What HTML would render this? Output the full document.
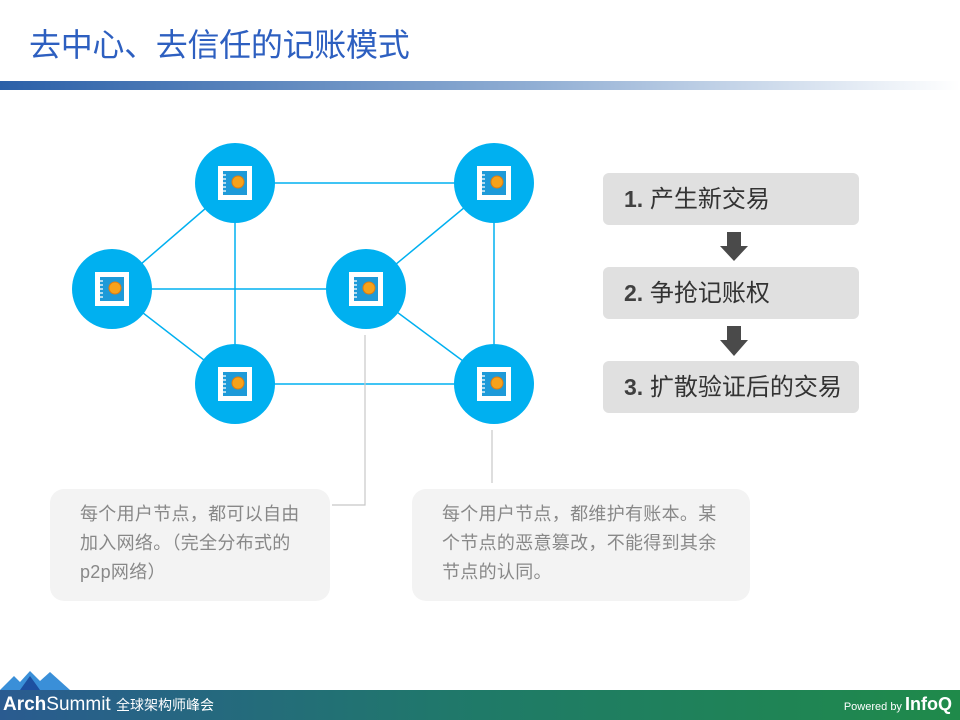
<!DOCTYPE html>
<html><head><meta charset="utf-8"><style>
body{margin:0;width:960px;height:720px;overflow:hidden;background:#fff;font-family:"Liberation Sans","Noto Sans CJK SC",sans-serif;position:relative}
.t{position:absolute;left:29px;top:20px;font-size:32px;color:#2d5fc0;letter-spacing:-0.3px}
.bar{position:absolute;left:0;top:81px;width:960px;height:9px;background:linear-gradient(90deg,#2b60a8,#8fadd3 55%,#fff)}
.box{position:absolute;left:603px;width:256px;height:52px;background:#e0e0e0;border-radius:6px;font-size:24px;color:#333;line-height:52px;box-sizing:border-box;padding-left:21px}
.box b{font-weight:bold;font-size:23px;color:#404040}
.c{position:absolute;top:489px;height:112px;background:#f3f3f3;border-radius:14px;font-size:18px;color:#888;line-height:29px;box-sizing:border-box;padding-top:11px;letter-spacing:0.3px}
.foot{position:absolute;left:0;top:690px;width:960px;height:30px;background:linear-gradient(90deg,#2a5b90,#1f7a68 50%,#1f8a4a)}
</style></head><body>
<div class="t">去中心、去信任的记账模式</div>
<div class="bar"></div>
<svg width="960" height="720" style="position:absolute;left:0;top:0">
<g stroke="#00b0f0" stroke-width="1.5">
<line x1="235" y1="183" x2="494" y2="183"/><line x1="235" y1="183" x2="112" y2="289"/>
<line x1="235" y1="183" x2="235" y2="384"/><line x1="112" y1="289" x2="366" y2="289"/>
<line x1="112" y1="289" x2="235" y2="384"/><line x1="235" y1="384" x2="494" y2="384"/>
<line x1="494" y1="183" x2="366" y2="289"/><line x1="494" y1="183" x2="494" y2="384"/>
<line x1="366" y1="289" x2="494" y2="384"/></g>
<g stroke="#c8c8c8" stroke-width="1.2" fill="none">
<polyline points="365,335 365,505 332,505"/><line x1="492" y1="430" x2="492" y2="483"/></g>
<defs><g id="n"><circle r="40" fill="#00b0f0"/><rect x="-17" y="-17" width="34" height="34" fill="#fff"/>
<rect x="-12" y="-12" width="24" height="24" fill="#1e9ad8"/>
<g stroke="#fff" stroke-width="1.3"><line x1="-14" y1="-8" x2="-9" y2="-8"/><line x1="-14" y1="-4" x2="-9" y2="-4"/><line x1="-14" y1="0" x2="-9" y2="0"/><line x1="-14" y1="4" x2="-9" y2="4"/><line x1="-14" y1="8" x2="-9" y2="8"/></g>
<circle cx="3" cy="-1" r="6" fill="#f7a21b" stroke="#e07c10"/></g></defs>
<use href="#n" x="235" y="183"/><use href="#n" x="494" y="183"/><use href="#n" x="112" y="289"/>
<use href="#n" x="366" y="289"/><use href="#n" x="235" y="384"/><use href="#n" x="494" y="384"/>
<g fill="#4a4a4a"><polygon points="727,232 741,232 741,246 748,246 734,261 720,246 727,246"/>
<polygon points="727,326 741,326 741,340 748,340 734,356 720,340 727,340"/></g>
<polygon points="0,690 14,676 20,682 30,671 40,681 50,672 70,690" fill="#3a8fd8"/>
<polygon points="20,690 30,676 40,690" fill="#1d4fa0"/>
</svg>
<div class="box" style="top:173px"><b>1.</b> 产生新交易</div>
<div class="box" style="top:267px"><b>2.</b> 争抢记账权</div>
<div class="box" style="top:361px"><b>3.</b> 扩散验证后的交易</div>
<div class="c" style="left:50px;width:280px;padding-left:30px">每个用户节点，都可以自由<br>加入网络。（完全分布式的<br>p2p网络）</div>
<div class="c" style="left:412px;width:338px;padding-left:30px">每个用户节点，都维护有账本。某<br>个节点的恶意篡改，不能得到其余<br>节点的认同。</div>
<div class="foot"><span style="position:absolute;left:3px;top:4px;color:#fff;font-size:19px"><b>Arch</b>Summit <span style="font-size:14px">全球架构师峰会</span></span>
<span style="position:absolute;right:8px;top:4px;color:#fff;font-size:11px">Powered by <b style="font-size:18px">InfoQ</b></span></div>
</body></html>
